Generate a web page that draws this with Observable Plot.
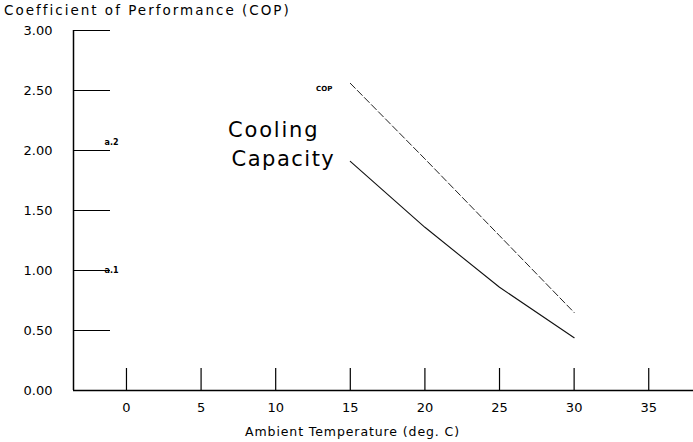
<!DOCTYPE html>
<html>
<head>
<meta charset="utf-8">
<script src="https://cdn.jsdelivr.net/npm/d3@7"></script>
<script src="https://cdn.jsdelivr.net/npm/@observablehq/plot@0.6"></script>
<style>
  body { margin: 0; background: #fff; }
  #title { font-family: "DejaVu Sans", sans-serif; font-size: 13.5px; letter-spacing: 2px; height: 22px; line-height: 20px; padding-left: 4px; color: #000; white-space: nowrap; }
</style>
</head>
<body>
<div id="title">Coefficient of Performance (COP)</div>
<div id="chart"></div>
<script>
// Data
const temps = [15, 20, 25, 30];
const copValues = [2.56, 1.93, 1.29, 0.65];
const coolingValues = [1.91, 1.36, 0.86, 0.44];
const xTicks = [0, 5, 10, 15, 20, 25, 30, 35];
const yTicks = [0, 0.5, 1, 1.5, 2, 2.5, 3];
const xDomain = [-3.55, 38.0];
const yDomain = [0, 3];
const noteUpper = [{y: 2, label: "a.2"}];
const noteLower = [{y: 1, label: "a.1"}];
const xTitle = ["Ambient Temperature (deg. C)"];

const cop = temps.map((t, i) => ({t, v: copValues[i]}));
const cooling = temps.map((t, i) => ({t, v: coolingValues[i]}));

const font = "DejaVu Sans, sans-serif";

const plot = Plot.plot({
  width: 693,
  height: 420,
  marginLeft: 73,
  marginRight: 0,
  marginTop: 8,
  marginBottom: 52,
  style: {fontFamily: font, fontSize: "12px", color: "#000", background: "#fff"},
  x: {domain: xDomain},
  y: {domain: yDomain},
  marks: [
    Plot.ruleX([xDomain[0]], {stroke: "#000", strokeWidth: 1.5}),
    Plot.ruleY([yDomain[0]], {stroke: "#000", strokeWidth: 1.5}),
    // y ticks extending right of axis
    Plot.axisY(yTicks, {tickSize: 37, dx: 37, tickFormat: () => "", stroke: "#000", strokeWidth: 1.2}),
    Plot.axisY(yTicks, {tickSize: 0, tickPadding: 21, tickFormat: d3.format(".2f"), fontSize: 13, label: null}),
    // x ticks extending up from axis
    Plot.axisX(xTicks, {tickSize: 22, dy: -22, tickFormat: () => "", stroke: "#000", strokeWidth: 1.2, label: null}),
    Plot.axisX(xTicks, {tickSize: 0, tickPadding: 12, fontSize: 13, label: null}),
    Plot.text(xTitle, {text: d => d, frameAnchor: "bottom", dx: -31, dy: 45, fontSize: 12.5}),
    Plot.text(noteUpper, {y: "y", text: "label", frameAnchor: "left", dx: 31, dy: -8, textAnchor: "start", fontSize: 8, fontWeight: "bold"}),
    Plot.text(noteLower, {y: "y", text: "label", frameAnchor: "left", dx: 31, dy: 0, textAnchor: "start", fontSize: 8, fontWeight: "bold"}),
    Plot.line(cooling, {x: "t", y: "v", stroke: "#111", strokeWidth: 1.1}),
    Plot.line(cop, {x: "t", y: "v", stroke: "#222", strokeWidth: 1, strokeDasharray: "7,3"}),
    Plot.text([cop[0]], {x: "t", y: "v", text: () => "COP", textAnchor: "end", dx: -18, dy: 5, fontSize: 7, fontWeight: "bold"}),
    Plot.text([cooling[0]], {x: "t", y: "v", text: () => "Cooling", textAnchor: "end", dx: -31, dy: -31, fontSize: 21}),
    Plot.text([cooling[0]], {x: "t", y: "v", text: () => "Capacity", textAnchor: "end", dx: -15, dy: -2, fontSize: 21})
  ]
});
// letter spacing to mimic the wide plotter lettering
const spacing = {"Cooling": "1.8px", "Capacity": "1.5px"};
spacing[xTitle[0]] = "0.9px";
d3.select(plot).selectAll("text").each(function() {
  const s = spacing[this.textContent];
  if (s) this.style.letterSpacing = s;
});
document.getElementById("chart").appendChild(plot);
</script>
</body>
</html>
